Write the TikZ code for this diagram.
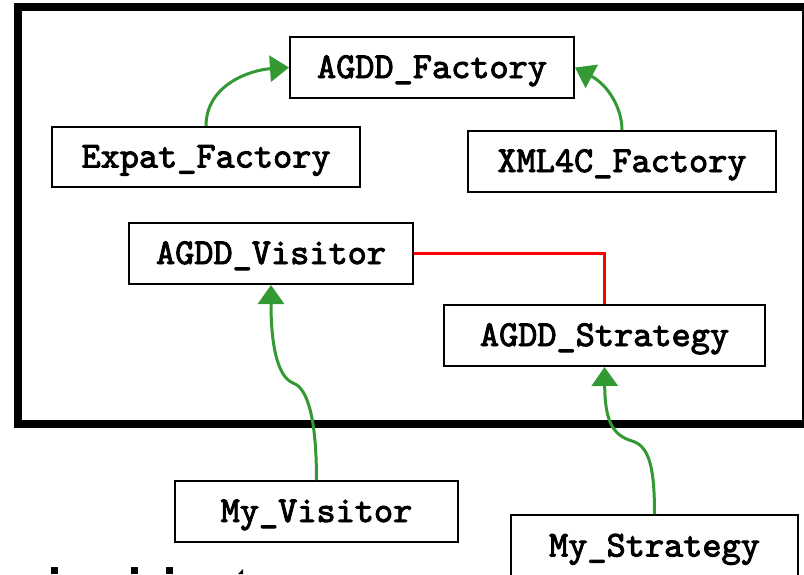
\documentclass[tikz,border=0pt]{standalone}
\usepackage{fontspec}
\newfontfamily\classfont{lmmono10-regular.otf}[FakeBold=2.6]
\usetikzlibrary{arrows.meta}
\definecolor{inhgreen}{RGB}{51,153,51}
\tikzset{
  classbox/.style={draw, line width=2pt, fill=white, inner sep=0pt,
    font=\classfont\bfseries\fontsize{36.5}{42}\selectfont,
    text height=21pt, text depth=0pt},
  inherit/.style={draw=inhgreen, line width=3pt,
    -{Triangle[length=19pt,width=26pt]}},
  assoc/.style={draw=red, line width=3pt}
}
\begin{document}
\begin{tikzpicture}[x=1pt, y=-1pt]
  \useasboundingbox (0,0) rectangle (804,574);
  \clip (0,0) rectangle (804,574);

  % package frame
  \draw[line width=8pt] (18,7) rectangle (806,424);

  % classes
  \node[classbox, minimum width=284pt, minimum height=61pt] (fac)   at (432,67.5)  {AGDD\_Factory};
  \node[classbox, minimum width=308pt, minimum height=60pt] (expat) at (206,157)   {Expat\_Factory};
  \node[classbox, minimum width=308pt, minimum height=61pt] (xml)   at (622,161.5) {XML4C\_Factory};
  \node[classbox, minimum width=284pt, minimum height=61pt] (vis)   at (271,253.5) {AGDD\_Visitor};
  \node[classbox, minimum width=321pt, minimum height=61pt] (strat) at (604.5,335.5) {AGDD\_Strategy};
  \node[classbox, minimum width=283pt, minimum height=61pt] (myvis) at (316.5,511.5) {My\_Visitor};
  \node[classbox, minimum width=287pt, minimum height=62pt] (mystrat) at (654.5,546) {My\_Strategy};

  % association
  \draw[assoc] (vis.east) -| (strat.north);

  % inheritance
  \draw[inherit] (expat.north) .. controls (206,85) and (250,70) .. (fac.west);
  \draw[inherit] (xml.north) .. controls (622,108) and (608,85) .. (fac.east);
  \draw[inherit] (myvis.north) .. controls (316.5,420) and (308,388) .. (293,383)
                 .. controls (276,376) and (271,340) .. (vis.south);
  \draw[inherit] (mystrat.north) .. controls (654.5,470) and (650,446) .. (632,441)
                 .. controls (612,435) and (605,420) .. (strat.south);

  % tops of the heading letters below the frame
  \fill (51,567) rectangle (58,574);
  \fill (131,567) rectangle (138,574);
  \fill (166,567) rectangle (173,574);
  \fill (238,574) -- (243,569) -- (243,574) -- cycle;
\end{tikzpicture}
\end{document}
